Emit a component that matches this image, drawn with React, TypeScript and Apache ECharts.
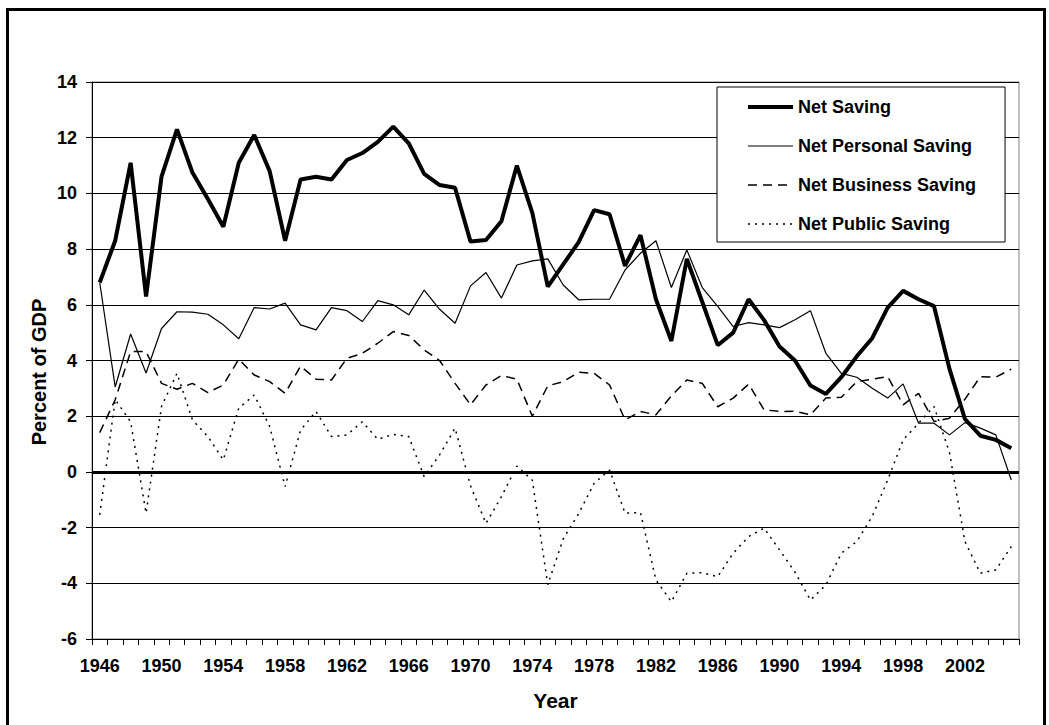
import React, { useEffect, useRef } from "react";
import * as echarts from "echarts";

const years = [
  "1946","1947","1948","1949","1950","1951","1952","1953","1954","1955",
  "1956","1957","1958","1959","1960","1961","1962","1963","1964","1965",
  "1966","1967","1968","1969","1970","1971","1972","1973","1974","1975",
  "1976","1977","1978","1979","1980","1981","1982","1983","1984","1985",
  "1986","1987","1988","1989","1990","1991","1992","1993","1994","1995",
  "1996","1997","1998","1999","2000","2001","2002","2003","2004","2005",
];

const netSaving = [
  6.8, 8.3, 11.1, 6.3, 10.6, 12.3, 10.75, 9.8, 8.8, 11.1,
  12.1, 10.8, 8.3, 10.5, 10.6, 10.5, 11.2, 11.45, 11.85, 12.4,
  11.8, 10.7, 10.3, 10.2, 8.27, 8.33, 9.0, 11.0, 9.3, 6.65,
  7.45, 8.25, 9.4, 9.25, 7.4, 8.5, 6.2, 4.7, 7.65, 6.1,
  4.55, 5.0, 6.2, 5.45, 4.5, 4.0, 3.1, 2.8, 3.4, 4.15,
  4.8, 5.9, 6.5, 6.2, 5.95, 3.7, 1.9, 1.3, 1.15, 0.85,
];

const netPersonalSaving = [
  6.8, 3.05, 4.95, 3.55, 5.15, 5.75, 5.74, 5.66, 5.28, 4.78,
  5.9, 5.85, 6.06, 5.28, 5.1, 5.9, 5.79, 5.4, 6.15, 6.0,
  5.64, 6.53, 5.84, 5.34, 6.68, 7.16, 6.24, 7.43, 7.58, 7.65,
  6.71, 6.18, 6.2, 6.2, 7.25, 7.85, 8.3, 6.62, 7.97, 6.62,
  5.94, 5.22, 5.36, 5.28, 5.18, 5.46, 5.79, 4.26, 3.54, 3.4,
  3.0, 2.65, 3.16, 1.75, 1.75, 1.33, 1.77, 1.57, 1.33, -0.29,
];

const netBusinessSaving = [
  1.41, 2.59, 4.32, 4.32, 3.18, 2.97, 3.18, 2.85, 3.12, 4.05,
  3.48, 3.24, 2.82, 3.8, 3.33, 3.3, 4.08, 4.26, 4.62, 5.04,
  4.9, 4.38, 4.0, 3.18, 2.41, 3.12, 3.46, 3.33, 2.0, 3.09,
  3.24, 3.58, 3.54, 3.12, 1.87, 2.17, 2.05, 2.73, 3.3, 3.18,
  2.34, 2.65, 3.15, 2.23, 2.17, 2.18, 2.05, 2.65, 2.68, 3.24,
  3.33, 3.42, 2.41, 2.82, 1.81, 1.93, 2.61, 3.42, 3.4, 3.69,
];

const netPublicSaving = [
  -1.54, 2.6, 1.8, -1.48, 2.35, 3.54, 1.87, 1.27, 0.43, 2.29,
  2.76, 1.63, -0.53, 1.5, 2.17, 1.27, 1.33, 1.8, 1.17, 1.35,
  1.27, -0.17, 0.61, 1.57, -0.5, -1.85, -0.89, 0.21, -0.3, -4.05,
  -2.4, -1.5, -0.41, 0.07, -1.48, -1.46, -3.88, -4.66, -3.64, -3.62,
  -3.76, -2.92, -2.32, -2.02, -2.8, -3.6, -4.6, -4.06, -2.92, -2.5,
  -1.6, -0.29, 1.15, 1.75, 2.35, 0.7, -2.5, -3.64, -3.52, -2.68,
];

const FONT = '"Liberation Sans", Arial, Helvetica, sans-serif';

export default function App() {
  const ref = useRef<HTMLDivElement>(null);

  useEffect(() => {
    if (!ref.current) return;
    const chart = echarts.init(ref.current, undefined, { renderer: "svg" });
    const lineBase = { type: "line", symbol: "none", showSymbol: false, z: 3 };
    chart.setOption({
      animation: false,
      backgroundColor: "#fff",
      textStyle: { fontFamily: FONT },
      grid: {
        left: 92,
        right: 30,
        top: 82,
        bottom: 86,
        show: true,
        borderColor: "#808080",
        borderWidth: 1,
        backgroundColor: "transparent",
      },
      legend: {
        orient: "vertical",
        left: 717,
        top: 87,
        padding: [11, 29, 9, 29],
        borderColor: "#000",
        borderWidth: 1,
        backgroundColor: "#fff",
        itemWidth: 45,
        itemHeight: 18,
        itemGap: 21,
        itemStyle: { color: "rgba(0,0,0,0)", borderWidth: 0, opacity: 0 },
        lineStyle: { width: "inherit", type: "inherit", color: "inherit" },
        textStyle: { fontFamily: FONT, fontWeight: "bold", fontSize: 18, color: "#000" },
        data: ["Net Saving", "Net Personal Saving", "Net Business Saving", "Net Public Saving"],
      },
      xAxis: {
        type: "category",
        data: years,
        boundaryGap: true,
        axisLine: { onZero: false, lineStyle: { color: "#000", width: 1 } },
        axisTick: { show: true, interval: 0, length: 6, alignWithLabel: false, lineStyle: { color: "#000" } },
        axisLabel: {
          interval: 3,
          fontFamily: FONT,
          fontWeight: "bold",
          fontSize: 18,
          color: "#000",
          margin: 18,
        },
        splitLine: { show: false },
        name: "Year",
        nameLocation: "middle",
        nameGap: 51,
        nameTextStyle: { fontFamily: FONT, fontWeight: "bold", fontSize: 21, color: "#000" },
      },
      yAxis: {
        type: "value",
        min: -6,
        max: 14,
        interval: 2,
        axisLine: { show: true, lineStyle: { color: "#000", width: 1 } },
        axisTick: { show: true, length: 6, lineStyle: { color: "#000" } },
        axisLabel: {
          fontFamily: FONT,
          fontWeight: "bold",
          fontSize: 18,
          color: "#000",
          margin: 15,
        },
        splitLine: { show: true, lineStyle: { color: "#000", width: 1 } },
      },
      graphic: [
        {
          type: "rect",
          shape: { x: 7.5, y: 9.5, width: 1037, height: 740 },
          style: { fill: "none", stroke: "#000", lineWidth: 3 },
          silent: true,
          z: 10,
        },
        {
          type: "text",
          x: 39,
          y: 372,
          rotation: Math.PI / 2,
          style: {
            text: "Percent of GDP",
            fontFamily: FONT,
            fontWeight: "bold",
            fontSize: 20,
            fill: "#000",
            textAlign: "center",
            textVerticalAlign: "middle",
          },
        },
      ],
      series: [
        {
          ...lineBase,
          name: "Net Personal Saving",
          data: netPersonalSaving,
          lineStyle: { color: "#000", width: 1.2, type: "solid" },
          itemStyle: { color: "#000" },
        },
        {
          ...lineBase,
          name: "Net Business Saving",
          data: netBusinessSaving,
          lineStyle: { color: "#000", width: 1.5, type: [9, 6] },
          itemStyle: { color: "#000" },
        },
        {
          ...lineBase,
          name: "Net Public Saving",
          data: netPublicSaving,
          lineStyle: { color: "#000", width: 1.5, type: [2, 5] },
          itemStyle: { color: "#000" },
        },
        {
          ...lineBase,
          name: "Net Saving",
          data: netSaving,
          z: 4,
          lineStyle: { color: "#000", width: 4, type: "solid" },
          itemStyle: { color: "#000" },
          markLine: {
            silent: true,
            symbol: ["none", "none"],
            label: { show: false },
            lineStyle: { color: "#000", width: 3, type: "solid" },
            data: [{ yAxis: 0 }],
          },
        },
      ],
    });
    return () => chart.dispose();
  }, []);

  return (
    <div
      ref={ref}
      style={{ position: "fixed", left: 0, top: 0, width: 1049, height: 725, background: "#fff" }}
    />
  );
}
